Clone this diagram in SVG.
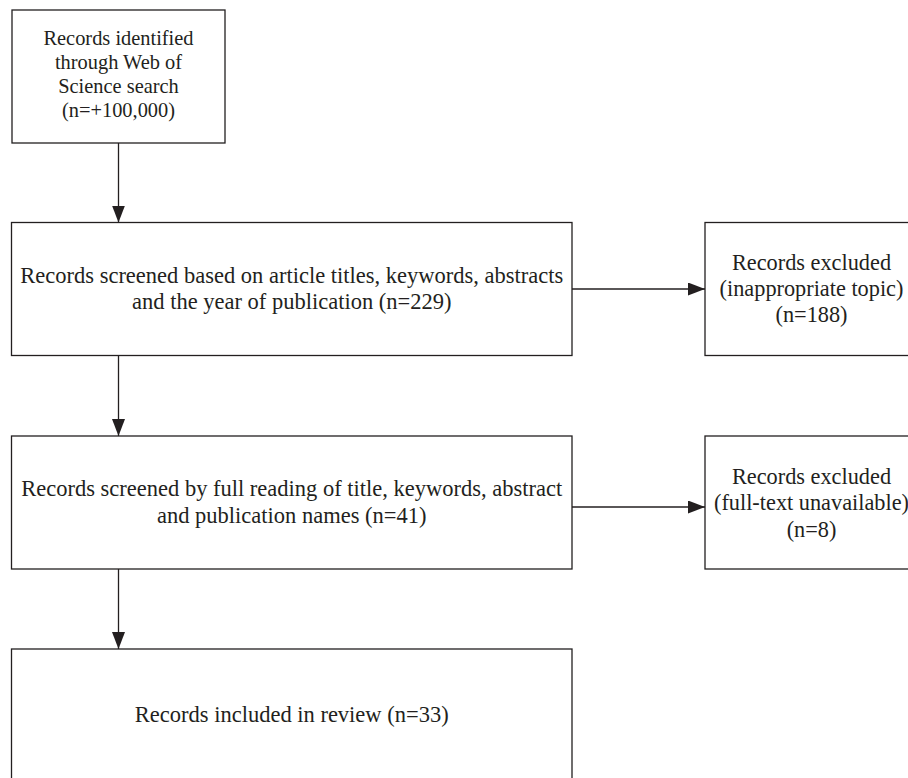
<svg xmlns="http://www.w3.org/2000/svg" width="908" height="778" viewBox="0 0 908 778">
<style>
.box{fill:#fff;stroke:#231f20;stroke-width:1.3}
.t{font-family:"Liberation Serif","Times New Roman",serif;font-size:22.5px;fill:#231f20;text-anchor:middle}
.s{font-size:20.4px}
.e{font-size:22.3px}
.c{stroke:#231f20;stroke-width:1.3;fill:none;marker-end:url(#ah)}
</style>
<defs>
<marker id="ah" markerUnits="userSpaceOnUse" markerWidth="17" markerHeight="13" refX="17" refY="6.5" orient="auto" viewBox="0 0 17 13">
<path d="M0,0 L17,6.5 L0,13 z" fill="#231f20"/>
</marker>
</defs>
<rect width="908" height="778" fill="#fff"/>
<g id="connectors">
<line class="c" x1="118.5" y1="143" x2="118.5" y2="222.5"/>
<line class="c" x1="118.5" y1="355.5" x2="118.5" y2="436"/>
<line class="c" x1="118.5" y1="569" x2="118.5" y2="649"/>
<line class="c" x1="572" y1="289" x2="705" y2="289"/>
<line class="c" x1="572" y1="507" x2="705" y2="507"/>
</g>
<g id="identified">
<rect class="box" x="12" y="10" width="213" height="133"/>
<text class="t s" x="118.5" y="45">Records identified</text>
<text class="t s" x="118.5" y="69">through Web of</text>
<text class="t s" x="118.5" y="93">Science search</text>
<text class="t s" x="118.5" y="117">(n=+100,000)</text>
</g>
<g id="screened1">
<rect class="box" x="11.5" y="222.5" width="560.5" height="133"/>
<text class="t" x="291.75" y="283">Records screened based on article titles, keywords, abstracts</text>
<text class="t" x="291.75" y="309">and the year of publication (n=229)</text>
</g>
<g id="excluded1">
<rect class="box" x="705" y="222.5" width="213" height="133"/>
<text class="t e" x="811.5" y="270">Records excluded</text>
<text class="t e" x="811.5" y="296">(inappropriate topic)</text>
<text class="t e" x="811.5" y="322">(n=188)</text>
</g>
<g id="screened2">
<rect class="box" x="11.5" y="436" width="560.5" height="133"/>
<text class="t" x="291.75" y="496">Records screened by full reading of title, keywords, abstract</text>
<text class="t" x="291.75" y="523">and publication names (n=41)</text>
</g>
<g id="excluded2">
<rect class="box" x="705" y="436" width="213" height="133"/>
<text class="t e" x="811.5" y="483.5">Records excluded</text>
<text class="t e" x="811.5" y="510">(full-text unavailable)</text>
<text class="t e" x="811.5" y="536.5">(n=8)</text>
</g>
<g id="included">
<rect class="box" x="11.5" y="649" width="560.5" height="133"/>
<text class="t" x="291.75" y="722">Records included in review (n=33)</text>
</g>
</svg>
